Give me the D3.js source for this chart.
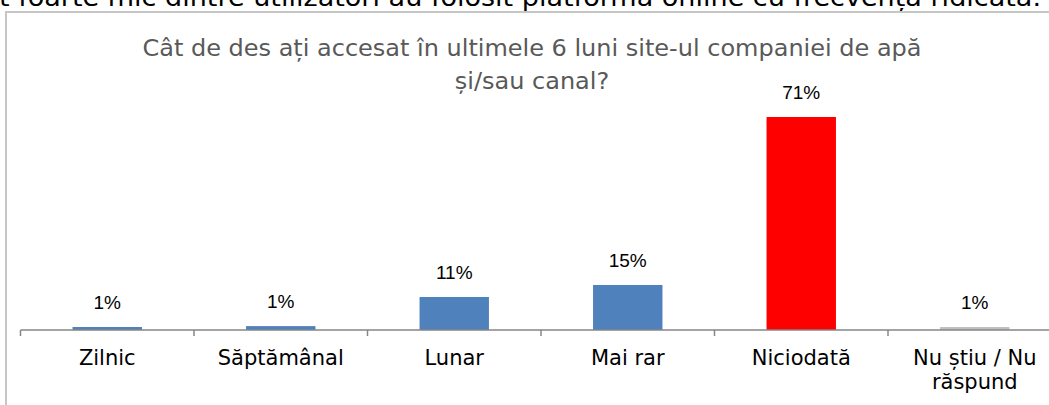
<!DOCTYPE html>
<html>
<head>
<meta charset="utf-8">
<script src="https://cdn.jsdelivr.net/npm/d3@7"></script>
<style>
  body { margin: 0; background: #fff; }
  svg { display: block; }
</style>
</head>
<body>
<svg id="chart"></svg>
<script>
const width = 1049;
const height = 405;

const headline = "t foarte mic dintre utilizatori au folosit platforma online cu frecvența ridicată.";
const titleLines = ["Cât de des ați accesat în ultimele 6 luni site-ul companiei de apă", "și/sau canal?"];
const categories = ["Zilnic", "Săptămânal", "Lunar", "Mai rar", "Niciodată", "Nu știu / Nu răspund"];
const values = [1, 1.3, 11, 15, 71, 1];
const labels = ["1%", "1%", "11%", "15%", "71%", "1%"];
const colors = ["#4f81bd", "#4f81bd", "#4f81bd", "#4f81bd", "#ff0000", "#bfbfbf"];

const svg = d3.select("#chart").attr("width", width).attr("height", height);

// headline cut off at the top of the picture
svg.append("text").attr("x", -1).attr("y", 6)
  .attr("textLength", 1042).attr("lengthAdjust", "spacingAndGlyphs")
  .style("font-family", "DejaVu Sans").style("font-size", "24px").attr("fill", "#000")
  .text(headline);

// chart frame (only left and top edges are in view)
svg.append("path").attr("d", "M6,405V12H1049").attr("fill", "none").attr("stroke", "#c6c6c6").attr("stroke-width", 2);

const title = svg.append("text").attr("text-anchor", "middle")
  .style("font-family", "DejaVu Sans Condensed").style("font-size", "23px").attr("fill", "#595959");
const tspans = title.selectAll("tspan").data(titleLines).enter().append("tspan")
  .attr("x", 532).attr("y", (d, i) => 56 + i * 33).text(d => d);
// stretch the title to the width it has in the picture
const k = 779 / tspans.nodes()[0].getComputedTextLength();
tspans.each(function() {
  d3.select(this).attr("textLength", this.getComputedTextLength() * k).attr("lengthAdjust", "spacingAndGlyphs");
});

const x = d3.scaleBand().domain(categories).range([20.5, 1061.5]).paddingInner(0.6).paddingOuter(0.3);
const y = d3.scaleLinear().domain([0, 71]).range([330, 117]);

svg.selectAll(".bar").data(values).enter().append("rect").attr("class", "bar")
  .attr("x", (d, i) => x(categories[i])).attr("y", d => y(d))
  .attr("width", x.bandwidth()).attr("height", d => 330 - y(d))
  .attr("fill", (d, i) => colors[i]);

svg.selectAll(".lbl").data(values).enter().append("text").attr("class", "lbl")
  .attr("x", (d, i) => x(categories[i]) + x.bandwidth() / 2).attr("y", d => y(d) - 18)
  .attr("text-anchor", "middle").style("font-family", "Liberation Sans").style("font-size", "19px").attr("fill", "#000")
  .text((d, i) => labels[i]);

// category axis
const xAxis = d3.axisBottom(x).tickSize(0).tickFormat("");
const axisG = svg.append("g").attr("transform", "translate(0,330)").call(xAxis);
axisG.select(".domain").attr("stroke", "#868686").attr("stroke-width", 1.5).attr("d", "M20.5,0H1061.5");
axisG.selectAll(".sep").data(d3.range(categories.length + 1)).enter().append("line").attr("class", "sep")
  .attr("x1", i => 20.5 + i * (1041 / 6)).attr("x2", i => 20.5 + i * (1041 / 6))
  .attr("y1", 0).attr("y2", 6).attr("stroke", "#868686").attr("stroke-width", 1.5);

const catText = svg.selectAll(".cat").data(categories).enter().append("text").attr("class", "cat")
  .attr("text-anchor", "middle").style("font-family", "DejaVu Sans").style("font-size", "21px").attr("fill", "#000");
catText.each(function(d) {
  const lines = d === "Nu știu / Nu răspund" ? ["Nu știu / Nu", "răspund"] : [d];
  const cx = x(d) + x.bandwidth() / 2;
  d3.select(this).selectAll("tspan").data(lines).enter().append("tspan")
    .attr("x", cx).attr("y", (l, i) => 365 + i * 24).text(l => l);
});
</script>
</body>
</html>
